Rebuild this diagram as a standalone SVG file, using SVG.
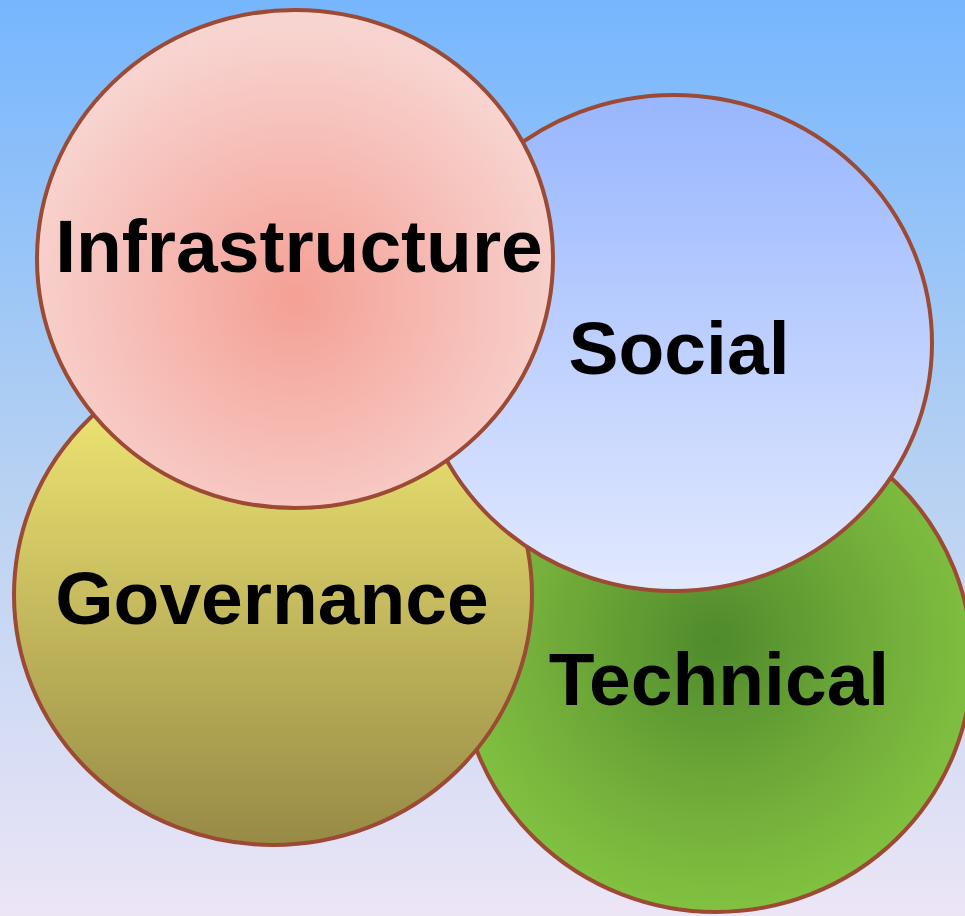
<svg xmlns="http://www.w3.org/2000/svg" width="965" height="916" viewBox="0 0 965 916">
  <defs>
    <linearGradient id="bg" x1="0" y1="0" x2="0" y2="1">
      <stop offset="0" stop-color="#76b6fe"/>
      <stop offset="0.5" stop-color="#b4d0f2"/>
      <stop offset="1" stop-color="#ece5f6"/>
    </linearGradient>
    <radialGradient id="gInfra" cx="0.5" cy="0.58" r="0.55">
      <stop offset="0" stop-color="#f4a095"/>
      <stop offset="1" stop-color="#f8d4d0"/>
    </radialGradient>
    <linearGradient id="gSocial" x1="0" y1="0" x2="0" y2="1">
      <stop offset="0" stop-color="#98b6fe"/>
      <stop offset="1" stop-color="#e2e9fe"/>
    </linearGradient>
    <linearGradient id="gGov" x1="0" y1="0" x2="0" y2="1">
      <stop offset="0" stop-color="#f8f078"/>
      <stop offset="1" stop-color="#978a46"/>
    </linearGradient>
    <radialGradient id="gTech" cx="0.5" cy="0.46" r="0.55">
      <stop offset="0" stop-color="#4f8a2c"/>
      <stop offset="0.6" stop-color="#72ad3a"/>
      <stop offset="1" stop-color="#82c341"/>
    </radialGradient>
  </defs>
  <style>
    .ring { stroke: #9c4a33; stroke-width: 4; }
    .label { font-family: "Liberation Sans", Arial, sans-serif; font-weight: bold; font-size: 75px; fill: #000; text-anchor: middle; }
  </style>

  <rect x="0" y="0" width="965" height="916" fill="url(#bg)"/>

  <g id="technical">
    <ellipse class="ring" cx="716" cy="661" rx="256" ry="251" fill="url(#gTech)"/>
    <text class="label" x="719" y="705">Technical</text>
  </g>

  <g id="governance">
    <ellipse class="ring" cx="273" cy="595" rx="259" ry="250" fill="url(#gGov)"/>
    <text class="label" x="272" y="624">Governance</text>
  </g>

  <g id="social">
    <ellipse class="ring" cx="674" cy="343" rx="258" ry="248" fill="url(#gSocial)"/>
    <text class="label" x="679" y="374">Social</text>
  </g>

  <g id="infrastructure">
    <ellipse class="ring" cx="295" cy="259" rx="258" ry="249" fill="url(#gInfra)"/>
    <text class="label" x="299" y="272">Infrastructure</text>
  </g>

  <g id="connectors"/>
</svg>
